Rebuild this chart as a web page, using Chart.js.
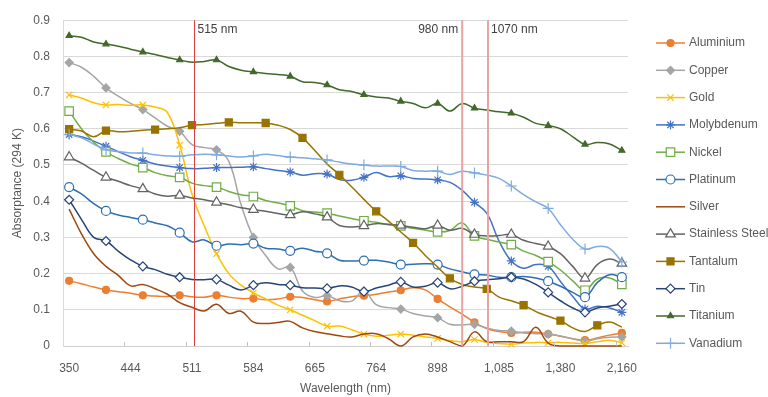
<!DOCTYPE html>
<html>
<head>
<meta charset="utf-8">
<script src="https://cdn.jsdelivr.net/npm/chart.js@4/dist/chart.umd.min.js"></script>
<style>
  html, body { margin: 0; padding: 0; background: #ffffff; }
  #wrap { width: 768px; height: 397px; position: relative; }
</style>
</head>
<body>
<div id="wrap"><canvas id="c" width="768" height="397"></canvas></div>
<script>
// ---------------- DATA ----------------
const tickLabels = ['350', '444', '511', '584', '665', '764', '898', '1,085', '1,380', '2,160'];
const labelEvery = 5;               // one labelled wavelength every 5 samples
const sampleCount = 46;

const aluminium = [0.18,0.172,0.163,0.155,0.15,0.146,0.14,0.138,0.137,0.14,
  0.136,0.135,0.14,0.135,0.131,0.131,0.128,0.13,0.136,0.134,
  0.128,0.123,0.13,0.136,0.139,0.143,0.149,0.154,0.161,0.155,
  0.13,0.108,0.088,0.065,0.048,0.04,0.036,0.038,0.038,0.033,
  0.027,0.02,0.016,0.022,0.03,0.036];
const copper = [0.783,0.77,0.745,0.713,0.69,0.67,0.653,0.63,0.607,0.593,
  0.556,0.548,0.542,0.51,0.39,0.30,0.25,0.213,0.217,0.152,
  0.134,0.139,0.125,0.124,0.152,0.114,0.106,0.102,0.09,0.083,
  0.078,0.06,0.058,0.06,0.05,0.043,0.041,0.036,0.034,0.033,
  0.028,0.02,0.013,0.02,0.024,0.025];
const gold = [0.694,0.685,0.672,0.666,0.667,0.665,0.666,0.66,0.645,0.555,
  0.42,0.332,0.255,0.2,0.168,0.147,0.13,0.113,0.1,0.085,
  0.07,0.055,0.055,0.045,0.033,0.027,0.03,0.033,0.03,0.025,
  0.021,0.015,0.012,0.018,0.01,0.007,0.005,0.008,0.01,0.009,
  0.01,0.008,0.007,0.012,0.016,0.009];
const molybdenum = [0.584,0.578,0.566,0.552,0.537,0.523,0.513,0.503,0.497,0.493,
  0.49,0.491,0.493,0.493,0.494,0.495,0.49,0.485,0.481,0.472,
  0.476,0.475,0.46,0.458,0.466,0.479,0.468,0.47,0.463,0.461,
  0.459,0.452,0.43,0.397,0.367,0.29,0.235,0.215,0.225,0.22,
  0.178,0.137,0.102,0.11,0.105,0.093];
const nickel = [0.649,0.6,0.563,0.536,0.518,0.503,0.493,0.479,0.47,0.466,
  0.45,0.443,0.439,0.427,0.418,0.413,0.402,0.395,0.387,0.374,
  0.37,0.367,0.359,0.352,0.346,0.342,0.335,0.332,0.325,0.32,
  0.315,0.319,0.34,0.304,0.295,0.287,0.28,0.262,0.25,0.233,
  0.21,0.18,0.154,0.185,0.188,0.17];
const platinum = [0.439,0.42,0.393,0.373,0.362,0.355,0.349,0.34,0.332,0.313,
  0.288,0.293,0.277,0.282,0.28,0.283,0.27,0.268,0.263,0.27,
  0.262,0.256,0.237,0.235,0.236,0.237,0.232,0.225,0.226,0.227,
  0.225,0.213,0.205,0.198,0.196,0.19,0.19,0.192,0.188,0.179,
  0.165,0.148,0.135,0.175,0.197,0.19];
const silver = [0.378,0.31,0.255,0.22,0.195,0.166,0.17,0.158,0.143,0.12,
  0.107,0.097,0.115,0.09,0.096,0.066,0.062,0.065,0.068,0.05,
  0.04,0.034,0.028,0.025,0.033,0.034,0.02,0.0,0.025,0.033,
  0.025,0.012,0.0,0.039,0.012,0.012,0.012,0.012,0.052,0.008,
  0,0,0,0,0,0];
const stainlessSteel = [0.522,0.505,0.485,0.466,0.455,0.443,0.434,0.42,0.414,0.416,
  0.409,0.404,0.397,0.39,0.382,0.377,0.372,0.366,0.362,0.371,
  0.365,0.356,0.333,0.329,0.332,0.338,0.336,0.333,0.328,0.324,
  0.333,0.32,0.325,0.308,0.304,0.305,0.308,0.292,0.283,0.275,
  0.255,0.22,0.187,0.225,0.24,0.228];
const tantalum = [0.599,0.594,0.578,0.595,0.592,0.593,0.596,0.598,0.6,0.603,
  0.61,0.612,0.615,0.618,0.617,0.617,0.616,0.61,0.598,0.575,
  0.54,0.503,0.473,0.44,0.405,0.372,0.345,0.315,0.285,0.25,
  0.218,0.187,0.17,0.163,0.158,0.135,0.125,0.113,0.095,0.082,
  0.07,0.05,0.04,0.057,0.066,0.052];
const tin = [0.404,0.35,0.3,0.29,0.262,0.238,0.22,0.211,0.198,0.19,
  0.184,0.183,0.184,0.168,0.155,0.168,0.175,0.17,0.168,0.161,
  0.16,0.159,0.166,0.163,0.15,0.16,0.168,0.177,0.163,0.165,
  0.175,0.158,0.165,0.179,0.183,0.186,0.19,0.185,0.17,0.148,
  0.125,0.105,0.093,0.105,0.11,0.116];
const titanium = [0.857,0.853,0.84,0.834,0.828,0.82,0.812,0.805,0.797,0.79,
  0.784,0.786,0.79,0.772,0.762,0.757,0.753,0.75,0.745,0.73,
  0.728,0.721,0.708,0.703,0.694,0.688,0.685,0.676,0.67,0.658,
  0.67,0.649,0.67,0.657,0.652,0.647,0.643,0.632,0.615,0.609,
  0.6,0.578,0.557,0.562,0.558,0.54];
const vanadium = [0.585,0.575,0.558,0.542,0.537,0.533,0.533,0.528,0.525,0.524,
  0.528,0.53,0.528,0.525,0.522,0.525,0.53,0.526,0.522,0.52,
  0.517,0.514,0.508,0.503,0.5,0.497,0.497,0.496,0.485,0.483,
  0.483,0.474,0.483,0.478,0.472,0.463,0.442,0.418,0.398,0.38,
  0.335,0.295,0.268,0.275,0.27,0.232];

// reference wavelengths, located on the sample axis (fractional sample index)
const refLines = [
  { label: '515 nm', at: 10.2 },
  { label: '980 nm', at: 32.0 },
  { label: '1070 nm', at: 34.1 }
];

// ---------------- STYLE ----------------
const FONT = "'Liberation Sans', Arial, Helvetica, sans-serif";
const TXT = '#595959';
const series = [
  { name: 'Aluminium',       data: aluminium,      color: '#ED7D31', marker: 'circle',   r: 3.5, open: false },
  { name: 'Copper',          data: copper,         color: '#A5A5A5', marker: 'rectRot',  r: 4,   open: false },
  { name: 'Gold',            data: gold,           color: '#FFC000', marker: 'crossRot', r: 4.5, open: true },
  { name: 'Molybdenum',      data: molybdenum,     color: '#4472C4', marker: 'star',     r: 4.5, open: true },
  { name: 'Nickel',          data: nickel,         color: '#70AD47', marker: 'rect',     r: 6,   open: true },
  { name: 'Platinum',        data: platinum,       color: '#2F6EB0', marker: 'circle',   r: 4.5, open: true },
  { name: 'Silver',          data: silver,         color: '#9E480E', marker: false,      r: 0,   open: false },
  { name: 'Stainless Steel', data: stainlessSteel, color: '#636363', marker: 'triangle', r: 5.5, open: true },
  { name: 'Tantalum',        data: tantalum,       color: '#997300', marker: 'rect',     r: 5,   open: false, offset: 1, first: [0, 3] },
  { name: 'Tin',             data: tin,            color: '#264478', marker: 'rectRot',  r: 4.5, open: true },
  { name: 'Titanium',        data: titanium,       color: '#43682B', marker: 'triangle', r: 3.5, open: false },
  { name: 'Vanadium',        data: vanadium,       color: '#7FABE0', marker: 'cross',    r: 5.5, open: true }
];
const markerStep = 3;
function hasMarker(s, i) {
  if (!s.marker) return false;
  if (s.offset) {
    if (s.first.includes(i)) return true;
    return i >= 7 && (i - s.offset) % markerStep === 0;
  }
  return i % markerStep === 0;
}
const refStyle = [
  { width: 1, color: '#D9413F', side: 'right' },
  { width: 2, color: '#EBA2A2', side: 'left' },
  { width: 2, color: '#EBA2A2', side: 'right' }
];

const categories = Array.from({ length: sampleCount }, (_, i) =>
  i % labelEvery === 0 ? tickLabels[i / labelEvery] : '');

const datasets = series.map((s, k) => ({
  label: s.name,
  data: s.data,
  borderColor: s.color,
  backgroundColor: s.color,
  borderWidth: 1.5,
  tension: 0.4,
  fill: false,
  order: series.length - k,
  pointStyle: s.marker || 'circle',
  pointRadius: ctx => hasMarker(s, ctx.dataIndex) ? s.r : 0,
  pointHoverRadius: 0,
  pointBorderColor: s.color,
  pointBackgroundColor: s.open ? '#ffffff' : s.color,
  pointBorderWidth: 1.2,
  clip: 3
}));

function drawMarkerAt(ctx, s, x, y) {
  if (!s.marker) return;
  ctx.save();
  ctx.strokeStyle = s.color;
  ctx.fillStyle = s.open ? '#ffffff' : s.color;
  ctx.lineWidth = 1.2;
  Chart.helpers.drawPoint(ctx, { pointStyle: s.marker, rotation: 0, radius: s.r, borderWidth: 1.2 }, x, y);
  ctx.restore();
}

const overlay = {
  id: 'overlay',
  afterDatasetsDraw(chart) {
    const { ctx, chartArea: a, scales: { x } } = chart;
    const step = x.getPixelForValue(1) - x.getPixelForValue(0);
    const px = v => x.getPixelForValue(0) + v * step;
    ctx.save();
    // category tick marks (inside, every labelled group)
    ctx.strokeStyle = '#BFBFBF';
    ctx.lineWidth = 1;
    for (let i = labelEvery; i < sampleCount; i += labelEvery) {
      const tx = Math.round(px(i) - step / 2) + 0.5;
      ctx.beginPath();
      ctx.moveTo(tx, a.bottom);
      ctx.lineTo(tx, a.bottom - 4);
      ctx.stroke();
    }
    // reference wavelength lines
    refLines.forEach((r, k) => {
      const st = refStyle[k];
      let lx = px(r.at);
      if (st.width === 1) lx = Math.round(lx) + 0.5;
      ctx.strokeStyle = st.color;
      ctx.lineWidth = st.width;
      ctx.beginPath();
      ctx.moveTo(lx, a.top);
      ctx.lineTo(lx, a.bottom);
      ctx.stroke();
      ctx.fillStyle = '#404040';
      ctx.font = '12px ' + FONT;
      ctx.textBaseline = 'middle';
      ctx.textAlign = st.side === 'right' ? 'left' : 'right';
      ctx.fillText(r.label, st.side === 'right' ? lx + 3 : lx - 4, a.top + 9);
    });
    ctx.restore();
  },
  afterDraw(chart) {
    const ctx = chart.ctx;
    ctx.save();
    ctx.font = '12px ' + FONT;
    ctx.textBaseline = 'middle';
    ctx.textAlign = 'left';
    series.forEach((s, k) => {
      const y = 43 + k * 27.3;
      ctx.strokeStyle = s.color;
      ctx.lineWidth = 1.5;
      ctx.beginPath();
      ctx.moveTo(656, y);
      ctx.lineTo(685, y);
      ctx.stroke();
      drawMarkerAt(ctx, s, 670.5, y);
      ctx.fillStyle = TXT;
      ctx.fillText(s.name, 689, y);
    });
    ctx.restore();
  }
};

new Chart(document.getElementById('c'), {
  type: 'line',
  data: { labels: categories, datasets },
  plugins: [overlay],
  options: {
    responsive: false,
    animation: false,
    devicePixelRatio: 1,
    events: [],
    layout: { padding: { top: 14, right: 140, left: 0, bottom: 0 } },
    plugins: { legend: { display: false }, tooltip: { enabled: false } },
    scales: {
      x: {
        type: 'category',
        offset: true,
        grid: { display: false, offset: true },
        border: { display: true, color: '#CFCFCF', width: 1 },
        ticks: {
          autoSkip: false, maxRotation: 0, minRotation: 0, padding: 7,
          color: TXT, font: { family: FONT, size: 12 }
        },
        title: {
          display: true, text: 'Wavelength (nm)', color: TXT,
          font: { family: FONT, size: 12 }, padding: { top: 0, bottom: 1 }
        },
        afterFit: s => { s.height = 51; }
      },
      y: {
        min: 0, max: 0.9,
        grid: { color: '#D9D9D9', lineWidth: 1, drawTicks: false },
        border: { display: true, color: '#D9D9D9', width: 1 },
        ticks: {
          stepSize: 0.1, padding: 13, color: TXT,
          font: { family: FONT, size: 12 },
          callback: v => (Math.abs(v) < 1e-9 ? '0' : v.toFixed(1))
        },
        title: {
          display: true, text: 'Absorptance (294 K)', color: TXT,
          font: { family: FONT, size: 12 }, padding: { top: 10, bottom: 0 }
        },
        afterFit: s => { s.width = 63; }
      }
    }
  }
});
</script>
</body>
</html>
